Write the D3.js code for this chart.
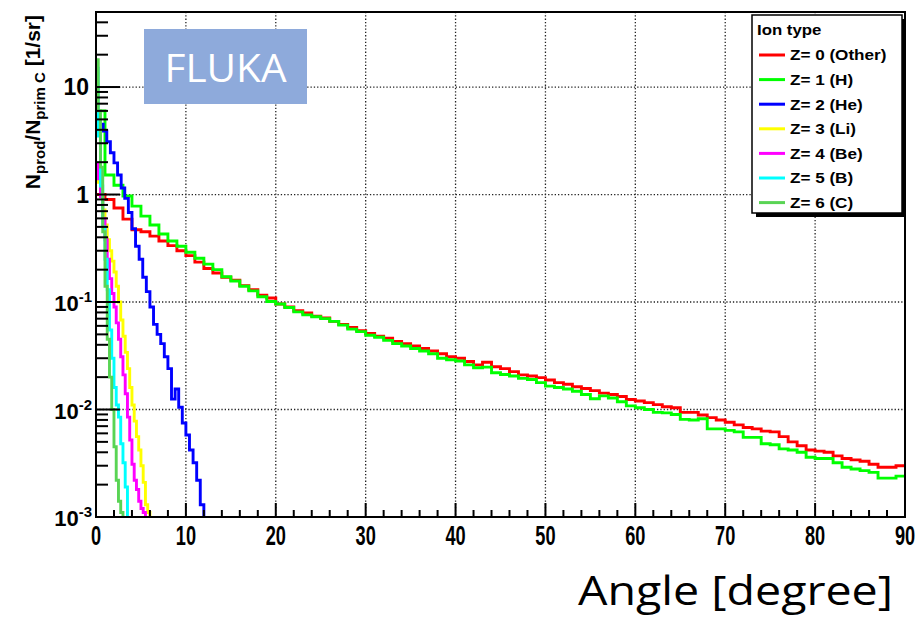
<!DOCTYPE html>
<html><head><meta charset="utf-8">
<script src="https://cdn.jsdelivr.net/npm/d3@7"></script>
<style>body{margin:0;background:#fff;} svg{display:block;}</style>
</head><body><svg id="c" width="916" height="617"></svg>
<script>
// ---------------- data ----------------
const xTickValues = [0,10,20,30,40,50,60,70,80,90];
const xMinorStep = 2;
const yDecades = [1e-3,1e-2,1e-1,1,10];
const yTickBase = ["10","10","10","1","10"];
const yTickExp  = ["-3","-2","-1","",""];
const seriesLabels = ["Z= 0 (Other)","Z= 1 (H)","Z= 2 (He)","Z= 3 (Li)","Z= 4 (Be)","Z= 5 (B)","Z= 6 (C)"];
const binWidths = [1,1,0.4,0.25,0.25,0.25,0.25];

const other = [1.0,0.9,0.75,0.59,0.47,0.45,0.41,0.37,0.335,0.30,
 0.27,0.235,0.205,0.186,0.17,0.16,0.142,0.13,0.116,0.109,
 0.096,0.09,0.083,0.079,0.074,0.071,0.066,0.062,0.058,0.054,
 0.051,0.048,0.046,0.043,0.041,0.039,0.037,0.035,0.033,0.031,
 0.030,0.028,0.026,0.0275,0.025,0.024,0.0225,0.021,0.0205,0.0198,
 0.0188,0.0178,0.0172,0.0163,0.0157,0.015,0.0142,0.0138,0.0132,0.0124,
 0.0120,0.0116,0.0111,0.0106,0.0104,0.0094,0.0094,0.0089,0.0084,0.0080,
 0.0076,0.0072,0.0068,0.0066,0.0063,0.0062,0.0056,0.0050,0.0046,0.0042,
 0.0041,0.0040,0.0037,0.0035,0.0034,0.0033,0.0031,0.0029,0.0029,0.0030];
const hydrogen = [6,1.52,1.22,0.97,0.78,0.63,0.52,0.43,0.37,0.33,
 0.29,0.255,0.225,0.2,0.172,0.157,0.14,0.127,0.112,0.101,
 0.096,0.089,0.081,0.076,0.073,0.070,0.066,0.061,0.056,0.053,
 0.049,0.047,0.044,0.041,0.039,0.037,0.035,0.033,0.030,0.029,
 0.0283,0.026,0.0245,0.0248,0.022,0.0212,0.0205,0.0195,0.019,0.0178,
 0.0165,0.016,0.0155,0.0148,0.0138,0.0126,0.0134,0.0128,0.0118,0.0108,
 0.0104,0.0100,0.0094,0.0093,0.0090,0.0081,0.0080,0.0082,0.0066,0.0066,
 0.0064,0.0062,0.0055,0.0055,0.0048,0.0047,0.0043,0.0042,0.0040,0.0036,
 0.0035,0.0035,0.0032,0.0029,0.0028,0.0027,0.0026,0.0023,0.0023,0.0024];
const helium = [5.3,4.5,3.9,3.1,2.45,1.97,1.52,1.15,0.92,0.68,
 0.48,0.33,0.25,0.17,0.125,0.09,0.062,0.05,0.041,0.031,
 0.024,0.0125,0.0155,0.0105,0.0075,0.0058,0.0042,0.0032,0.0022,0.0013];
const lithium = [1.7,1.3,0.95,0.72,0.52,0.38,0.3,0.24,0.19,0.14,
 0.1,0.068,0.048,0.034,0.024,0.016,0.011,0.0078,0.0056,0.0042,
 0.003,0.0021,0.0013,0.0011];
const beryllium = [1.9,1.4,0.95,0.6,0.38,0.25,0.165,0.12,0.09,0.064,
 0.045,0.031,0.021,0.014,0.0085,0.0052,0.0031,0.0022,0.0018,0.0014,
 0.0012,0.0011];
const boron = [15,3.5,1.2,0.5,0.25,0.13,0.055,0.03,0.016,0.011,
 0.0085,0.0048,0.0032,0.0019];
const carbon = [18,6,1.8,0.45,0.14,0.045,0.02,0.01,0.0045,0.0022,0.0014,0.0011];

const seriesValues = [other,hydrogen,helium,lithium,beryllium,boron,carbon];
const colors = ["#ff0000","#00ff00","#0000ff","#ffff00","#ff00ff","#00ffff","#59d454"];

// ---------------- layout ----------------
const L = 96, R = 905, T = 12, B = 517;
const svg = d3.select("#c");
const x = d3.scaleLinear().domain([0,90]).range([L,R]);
const y = d3.scaleLog().domain([1e-3,49.9]).range([B,T]);

svg.append("defs").append("clipPath").attr("id","plot")
  .append("rect").attr("x",L).attr("y",T).attr("width",R-L).attr("height",B-T);

// grid
const grid = svg.append("g").attr("stroke","#222").attr("stroke-width",1.3).attr("stroke-dasharray","1.3,2");
grid.selectAll("line.v").data(xTickValues.filter(v=>v>0&&v<90)).join("line")
  .attr("x1",d=>x(d)).attr("x2",d=>x(d)).attr("y1",T).attr("y2",B);
grid.selectAll("line.h").data(yDecades.filter(v=>v>1e-3)).join("line")
  .attr("x1",L).attr("x2",R).attr("y1",d=>y(d)).attr("y2",d=>y(d));

// FLUKA box
svg.append("rect").attr("x",144).attr("y",29).attr("width",163).attr("height",75).attr("fill","#8eaadb");
svg.append("text").attr("x",225.5).attr("y",82).attr("text-anchor","middle")
  .attr("font-family","'Open Sans', sans-serif").attr("font-size",38).attr("fill","#fff")
  .attr("textLength",122).attr("lengthAdjust","spacingAndGlyphs").text("FLUKA");

// histograms
const line = d3.line().x(d=>x(d[0])).y(d=>d[1]===null ? B+10 : y(d[1]));
const hg = svg.append("g").attr("clip-path","url(#plot)");
seriesValues.forEach((vals,k)=>{
  const w = binWidths[k];
  const pts = [];
  vals.forEach((v,i)=>{ pts.push([i*w, v]); pts.push([(i+1)*w, v]); });
  const end = vals.length*w;
  if (end < 90) pts.push([end, null]);
  hg.append("path").attr("d",line(pts)).attr("fill","none")
    .attr("stroke",colors[k]).attr("stroke-width",2.9).attr("stroke-linejoin","miter");
});

// frame
svg.append("rect").attr("x",L).attr("y",T).attr("width",R-L).attr("height",B-T)
  .attr("fill","none").attr("stroke","#000").attr("stroke-width",2);

// x ticks
const ax = svg.append("g").attr("stroke","#000").attr("stroke-width",2);
ax.selectAll("line.mj").data(xTickValues).join("line")
  .attr("x1",d=>x(d)).attr("x2",d=>x(d)).attr("y1",B).attr("y2",B-14);
ax.selectAll("line.mn").data(d3.range(0,90,xMinorStep).filter(v=>v%10!==0)).join("line")
  .attr("x1",d=>x(d)).attr("x2",d=>x(d)).attr("y1",B).attr("y2",B-7);
svg.append("g").selectAll("text").data(xTickValues).join("text")
  .attr("transform",d=>`translate(${x(d)},545) scale(0.65,1)`)
  .attr("text-anchor","middle").attr("font-family","'Liberation Sans', Arial, sans-serif")
  .attr("font-weight","bold").attr("font-size",28).text(d=>d);

// y ticks
const minors = [];
yDecades.forEach(d=>{ for(let m=2;m<=9;m++){ const v=d*m; if (v<=49.9) minors.push(v);} });
ax.selectAll("line.ymj").data(yDecades).join("line")
  .attr("x1",L).attr("x2",L+24).attr("y1",d=>y(d)).attr("y2",d=>y(d));
ax.selectAll("line.ymn").data(minors).join("line")
  .attr("x1",L).attr("x2",L+12).attr("y1",d=>y(d)).attr("y2",d=>y(d));
const yl = svg.append("g").attr("font-family","'Liberation Sans', Arial, sans-serif").attr("font-weight","bold");
yDecades.forEach((d,i)=>{
  const t = yl.append("text").attr("text-anchor","end");
  if (yTickExp[i]) {
    t.attr("x",92).attr("y",y(d)+9).attr("font-size",22);
    t.append("tspan").text(yTickBase[i]);
    t.append("tspan").attr("font-size",15).attr("dy",-9).text(yTickExp[i]);
  } else {
    t.attr("x",89).attr("y",y(d)+8).attr("font-size",23).text(yTickBase[i]);
  }
});

// y title
const yt = svg.append("text").attr("transform","translate(40,15) rotate(-90)")
  .attr("text-anchor","end").attr("font-family","'Liberation Sans', Arial, sans-serif")
  .attr("font-weight","bold").attr("font-size",21);
yt.append("tspan").text("N");
yt.append("tspan").attr("font-size",15).attr("dy",5).text("prod");
yt.append("tspan").attr("dy",-5).text("/N");
yt.append("tspan").attr("font-size",15).attr("dy",5).text("prim C");
yt.append("tspan").attr("dy",-5).text(" [1/sr]");

// legend
const lg = svg.append("g");
lg.append("rect").attr("x",756).attr("y",19).attr("width",150).attr("height",198).attr("fill","#000");
lg.append("rect").attr("x",752).attr("y",15).attr("width",150).attr("height",198)
  .attr("fill","#fff").attr("stroke","#000").attr("stroke-width",1.5);
lg.append("text").attr("transform","translate(757,35) scale(1.2,1)")
  .attr("font-family","'Liberation Sans', Arial, sans-serif").attr("font-weight","bold")
  .attr("font-size",14).text("Ion type");
seriesLabels.forEach((s,i)=>{
  const cy = 55 + i*24.6;
  lg.append("line").attr("x1",759).attr("x2",785).attr("y1",cy).attr("y2",cy)
    .attr("stroke",colors[i]).attr("stroke-width",3);
  lg.append("text").attr("transform",`translate(790,${cy+5.4}) scale(1.14,1)`)
    .attr("font-family","'Liberation Sans', Arial, sans-serif").attr("font-weight","bold")
    .attr("font-size",15).text(s);
});

// x title
svg.append("text").attr("x",578).attr("y",605)
  .attr("font-family","'Open Sans', sans-serif").attr("font-size",40).attr("fill","#000")
  .attr("textLength",315).attr("lengthAdjust","spacingAndGlyphs").text("Angle [degree]");
</script></body></html>
